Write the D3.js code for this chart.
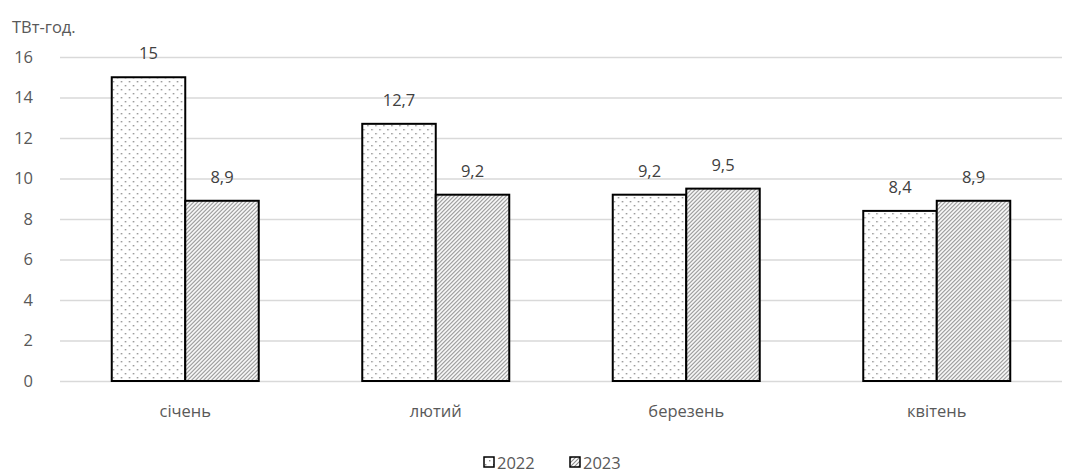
<!DOCTYPE html>
<html>
<head>
<meta charset="utf-8">
<script src="https://cdn.jsdelivr.net/npm/d3@7"></script>
<style>
  html, body { margin: 0; padding: 0; background: #fff; }
  svg { display: block; font-family: "Open Sans", sans-serif; }
</style>
</head>
<body>
<svg id="chart" width="1085" height="475"></svg>
<script>
// Monthly electricity consumption, TWh
const months = ["січень", "лютий", "березень", "квітень"];
const series = ["2022", "2023"];
const values2022 = [15, 12.7, 9.2, 8.4];
const values2023 = [8.9, 9.2, 9.5, 8.9];
const yTicks = [0, 2, 4, 6, 8, 10, 12, 14, 16];
const unitLabel = "ТВт-год.";

const svg = d3.select("#chart");
const textColor = "#595959";
const fontSize = 16.5;
const fontFamily = "'Open Sans', sans-serif";

const margin = { left: 60, right: 1062, top: 57, bottom: 381 };

const x = d3.scaleBand().domain(months).range([margin.left, margin.right]).paddingInner(0).paddingOuter(0);
const xSeries = d3.scaleBand().domain(series).range([0, 147]);
const y = d3.scaleLinear().domain([0, 16]).range([margin.bottom, margin.top]);

// fill patterns
const defs = svg.append("defs");
const dots = defs.append("pattern").attr("id", "dots").attr("patternUnits", "userSpaceOnUse")
  .attr("width", 8).attr("height", 8);
dots.append("rect").attr("width", 8).attr("height", 8).attr("fill", "#fff");
dots.append("rect").attr("x", 1).attr("y", 1).attr("width", 1.4).attr("height", 1.4).attr("fill", "#8a8a8a");
dots.append("rect").attr("x", 5).attr("y", 5).attr("width", 1.4).attr("height", 1.4).attr("fill", "#8a8a8a");

const diag = defs.append("pattern").attr("id", "diag").attr("patternUnits", "userSpaceOnUse")
  .attr("width", 4).attr("height", 4);
diag.append("rect").attr("width", 4).attr("height", 4).attr("fill", "#fff");
diag.append("path").attr("d", "M-1,5 L5,-1 M-1,1 L1,-1 M3,5 L5,3")
  .attr("stroke", "#8a8a8a").attr("stroke-width", 1.1);

const fills = { "2022": "url(#dots)", "2023": "url(#diag)" };

// gridlines and y axis labels
const yAxis = d3.axisLeft(y).tickValues(yTicks).tickSize(-(margin.right - margin.left)).tickPadding(27);
const gy = svg.append("g").attr("transform", `translate(${margin.left},0)`).call(yAxis);
gy.select(".domain").remove();
gy.selectAll(".tick line").attr("stroke", "#d9d9d9").attr("stroke-width", 1.3);
gy.selectAll(".tick text").attr("fill", textColor).style("font-size", fontSize + "px")
  .style("font-family", fontFamily);

// x axis labels
const xAxis = d3.axisBottom(x).tickSize(0).tickPadding(24);
const gx = svg.append("g").attr("transform", `translate(0,${margin.bottom})`).call(xAxis);
gx.select(".domain").remove();
gx.selectAll(".tick text").attr("fill", textColor).style("font-size", fontSize + "px")
  .style("font-family", fontFamily);

// bars
const rows = months.map((m, i) => ({ month: m, vals: [
  { key: "2022", v: values2022[i] },
  { key: "2023", v: values2023[i] }
]}));
const fmt = v => String(v).replace(".", ",");

const groups = svg.append("g").selectAll("g").data(rows).join("g")
  .attr("transform", d => `translate(${x(d.month) + x.bandwidth() / 2 - 73.5},0)`);

groups.selectAll("rect").data(d => d.vals).join("rect")
  .attr("x", d => xSeries(d.key))
  .attr("y", d => y(d.v))
  .attr("width", xSeries.bandwidth())
  .attr("height", d => y(0) - y(d.v))
  .attr("fill", d => fills[d.key])
  .attr("stroke", "#000")
  .attr("stroke-width", 2);

groups.selectAll("text").data(d => d.vals).join("text")
  .attr("x", d => xSeries(d.key) + xSeries.bandwidth() / 2)
  .attr("y", d => y(d.v) - 18)
  .attr("text-anchor", "middle")
  .attr("fill", "#404040")
  .style("font-size", fontSize + "px")
  .text(d => fmt(d.v));

// unit label
svg.append("text").attr("x", 12).attr("y", 33).attr("fill", textColor)
  .style("font-size", fontSize + "px").text(unitLabel);

// legend
const legend = svg.append("g").attr("transform", "translate(484,463)");
const items = legend.selectAll("g").data(series).join("g")
  .attr("transform", (d, i) => `translate(${i * 86},0)`);
items.append("rect").attr("x", 0).attr("y", -6).attr("width", 10).attr("height", 10)
  .attr("fill", d => fills[d]).attr("stroke", "#000").attr("stroke-width", 1.5);
items.append("text").attr("x", 13).attr("y", 5.5).attr("fill", textColor)
  .style("font-size", fontSize + "px").text(d => d);
</script>
</body>
</html>
